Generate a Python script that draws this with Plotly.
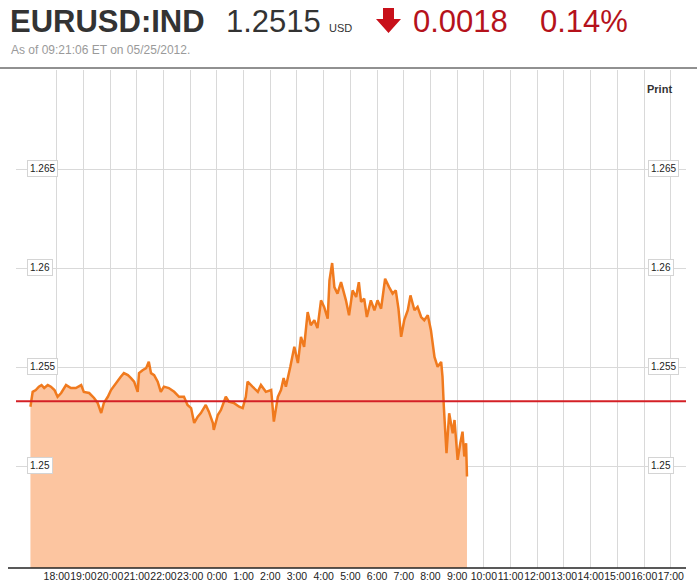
import plotly.graph_objects as go

# ---- data (minutes after 17:00 ET, EURUSD price) ----
minutes = [1, 6, 13, 20, 26, 32, 40, 47, 55, 62, 70, 81, 92, 103, 115, 121, 133, 144, 152, 160,
           166, 175, 182, 193, 204, 211, 220, 227, 234, 242, 245, 253, 261, 267, 272, 279, 287, 294, 301, 312,
           324, 335, 346, 354, 362, 369, 377, 384, 395, 402, 411, 413, 422, 429, 440, 447, 458, 470, 478, 485,
           489, 500, 512, 519, 530, 542, 548, 557, 564, 570, 575, 585, 594, 602, 609, 616, 624, 631, 639, 646,
           654, 661, 669, 673, 679, 684, 691, 699, 705, 710, 717, 725, 733, 739, 744, 751, 757, 766, 774, 781,
           789, 798, 807, 815, 822, 828, 834, 841, 849, 855, 864, 871, 879, 886, 894, 901, 909, 916, 924, 927,
           930, 936, 942, 950, 954, 961, 967, 972, 976, 980, 982]
prices = [1.25303, 1.25378, 1.25387, 1.25404, 1.25412, 1.25397, 1.25412, 1.25404, 1.25387, 1.25353,
          1.25372, 1.25412, 1.25397, 1.25397, 1.25412, 1.25377, 1.25372, 1.25347, 1.25322, 1.25271,
          1.25322, 1.25353, 1.25387, 1.25422, 1.25454, 1.25472, 1.25462, 1.25447, 1.25429, 1.25378,
          1.25472, 1.25487, 1.25497, 1.25529, 1.25472, 1.25462, 1.25429, 1.25378, 1.25404, 1.25397,
          1.25378, 1.25353, 1.25353, 1.25312, 1.25296, 1.25221, 1.25253, 1.25271, 1.25312, 1.25278,
          1.25221, 1.25186, 1.25261, 1.25286, 1.25353, 1.25328, 1.25322, 1.25303, 1.25296, 1.25353,
          1.25429, 1.25404, 1.25378, 1.25412, 1.25378, 1.25387, 1.25228, 1.25353, 1.25387, 1.25447,
          1.25404, 1.25504, 1.25605, 1.25523, 1.25655, 1.25605, 1.25780, 1.25714, 1.25739, 1.25699,
          1.25839, 1.25806, 1.25747, 1.25940, 1.26027, 1.25906, 1.25873, 1.25931, 1.25881, 1.25839,
          1.25764, 1.25889, 1.25856, 1.25931, 1.25831, 1.25848, 1.25755, 1.25839, 1.25789, 1.25839,
          1.25797, 1.25948, 1.25906, 1.25873, 1.25889, 1.25797, 1.25655, 1.25739, 1.25789, 1.25864,
          1.25789, 1.25806, 1.25755, 1.25739, 1.25764, 1.25688, 1.25554, 1.25504, 1.25529, 1.25454,
          1.25303, 1.25069, 1.25270, 1.25169, 1.25236, 1.25035, 1.25119, 1.25177, 1.25052, 1.25119,
          1.24951]
prev_close = 1.2533
tick_hours = list(range(1, 25))
tick_labels = ["18:00", "19:00", "20:00", "21:00", "22:00", "23:00", "0:00", "1:00", "2:00", "3:00",
               "4:00", "5:00", "6:00", "7:00", "8:00", "9:00", "10:00", "11:00", "12:00", "13:00",
               "14:00", "15:00", "16:00", "17:00"]
y_ticks = [1.25, 1.255, 1.26, 1.265]
y_tick_labels = ["1.25", "1.255", "1.26", "1.265"]

symbol = "EURUSD:IND"
last_price = "1.2515"
currency = "USD"
change = "0.0018"
change_pct = "0.14%"
as_of = "As of 09:21:06 ET on 05/25/2012."

hours = [m / 60 for m in minutes]

W, H = 697, 584
L, R, T, B = 16, 686, 70, 568
SANS = "Liberation Sans, Arial, sans-serif"


def px(x):
    return (x - L) / (R - L)


def py(y):
    return (B - y) / (B - T)


fig = go.Figure()
fig.add_trace(go.Scatter(
    x=hours, y=prices, mode="lines", fill="tozeroy",
    fillcolor="#FCC5A0", line=dict(color="#F07A1E", width=2.5), hoverinfo="skip"))

annotations = []
for v, t in zip(y_ticks, y_tick_labels):
    for xpx in (27, 648):
        annotations.append(dict(
            x=px(xpx), xref="paper", y=v, yref="y", yshift=1, text=t, showarrow=False,
            xanchor="left", yanchor="middle", font=dict(family=SANS, size=10, color="#222"),
            bgcolor="white", bordercolor="#d4d4d4", borderwidth=1, borderpad=2))

header_y = py(22)
annotations += [
    dict(x=px(8), y=header_y, text="<b>" + symbol + "</b>", font=dict(family=SANS, size=31, color="#333")),
    dict(x=px(224), y=header_y, text=last_price, font=dict(family=SANS, size=31, color="#333")),
    dict(x=px(327), y=py(28), text=currency, font=dict(family=SANS, size=11, color="#333")),
    dict(x=px(411), y=header_y, text=change, font=dict(family=SANS, size=31, color="#B5121B")),
    dict(x=px(538), y=header_y, text=change_pct, font=dict(family=SANS, size=31, color="#B5121B")),
    dict(x=px(9), y=py(50), text=as_of, font=dict(family=SANS, size=12, color="#9a9a9a")),
    dict(x=px(645), y=py(89), text="<b>Print</b>", font=dict(family=SANS, size=11, color="#333")),
]
for a in annotations[-7:]:
    a.update(xref="paper", yref="paper", xanchor="left", yanchor="middle", showarrow=False)

# down arrow glyph
ax = [383, 394, 394, 401, 388.5, 376, 383]
ay = [8, 8, 19, 19, 33, 19, 19]
path = "M " + " L ".join(f"{px(a)},{py(b)}" for a, b in zip(ax, ay)) + " Z"

shapes = [
    dict(type="path", xref="paper", yref="paper", path=path, fillcolor="#C8101A", line=dict(width=0)),
    dict(type="line", xref="paper", yref="paper", x0=px(0), x1=px(697), y0=py(68), y1=py(68),
         line=dict(color="#222", width=1)),
    dict(type="line", xref="paper", yref="y", x0=0, x1=1, y0=prev_close, y1=prev_close,
         line=dict(color="#D42026", width=2)),
    dict(type="line", xref="paper", yref="paper", x0=px(8), x1=1, y0=0, y1=0,
         line=dict(color="#222", width=1.5)),
]

fig.update_layout(
    width=W, height=H,
    margin=dict(l=L, r=W - R, t=T, b=H - B, pad=0, autoexpand=False),
    paper_bgcolor="white", plot_bgcolor="white",
    showlegend=False,
    xaxis=dict(range=[-0.524, 24.57], tickmode="array", tickvals=tick_hours, ticktext=tick_labels,
               showgrid=True, gridcolor="#d9d9d9", gridwidth=1, zeroline=False, showline=False,
               ticks="", tickangle=0, automargin=False,
               tickfont=dict(family=SANS, size=10.5, color="#222"), fixedrange=True),
    yaxis=dict(range=[1.2449, 1.27], tickmode="array", tickvals=y_ticks, showticklabels=False,
               showgrid=True, gridcolor="#d9d9d9", gridwidth=1, zeroline=False, showline=False,
               ticks="", automargin=False, fixedrange=True),
    annotations=annotations,
    shapes=shapes,
)

fig.write_html("out.html", config={"displayModeBar": False},
               post_script="document.body.style.margin='0';document.body.style.overflow='hidden';")
